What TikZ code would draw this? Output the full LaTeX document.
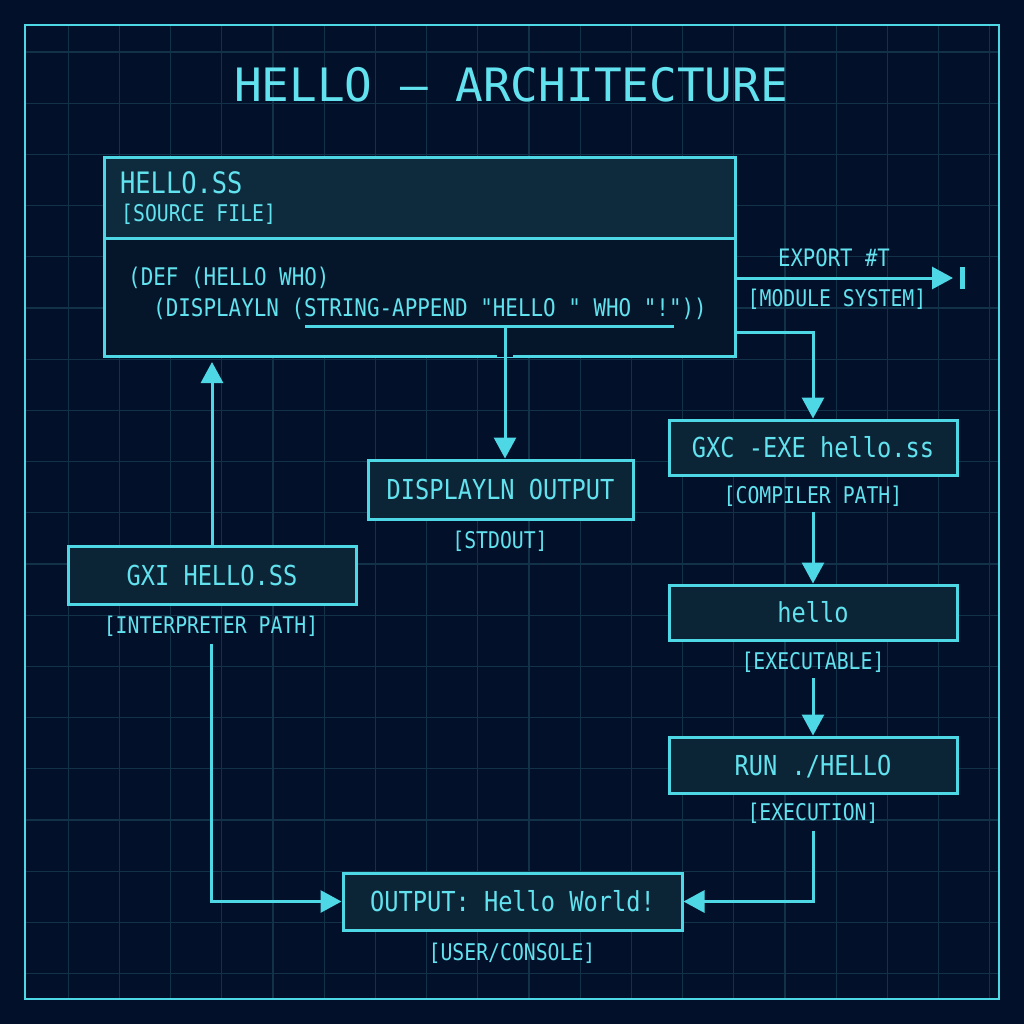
\documentclass[tikz,border=0pt]{standalone}
\usepackage{fontspec}
\setmonofont[FakeStretch=0.86]{DejaVu Sans Mono}
\newfontfamily\titlefont{DejaVu Sans Mono}
\usetikzlibrary{arrows.meta}
\definecolor{bgnavy}{HTML}{03102A}
\definecolor{gridteal}{HTML}{12324A}
\definecolor{neon}{HTML}{4ED8E6}
\definecolor{neontxt}{HTML}{62E2EE}
\definecolor{boxfill}{HTML}{0B2536}
\definecolor{headfill}{HTML}{0D2B3D}
\definecolor{bodyfill}{HTML}{05162B}
\tikzset{
  gridln/.style={gridteal,line width=1.2pt},
  outerframe/.style={draw=neon,line width=2.5pt},
  box/.style={draw=neon,fill=boxfill,line width=3pt,inner sep=0pt,text=neontxt,
    font=\ttfamily\fontsize{27.5}{32}\selectfont,text height=20pt,text depth=0pt},
  tag/.style={text=neontxt,inner sep=0pt,font=\ttfamily\fontsize{23}{28}\selectfont,
    text height=16.8pt,text depth=0pt},
  codeln/.style={text=neontxt,inner sep=0pt,font=\ttfamily\fontsize{24.3}{30}\selectfont,anchor=base west},
  flow/.style={neon,line width=3pt,-{Triangle[length=21pt,width=22pt]}},
  wire/.style={neon,line width=3pt},
}
\begin{document}
\begin{tikzpicture}[x=1pt,y=-1pt]
  \useasboundingbox[fill=bgnavy] (0,0) rectangle (1024,1024);
  % blueprint grid
  \foreach \k in {1,...,19}{
    \pgfmathsetmacro{\gx}{17+51.2*\k}
    \pgfmathsetmacro{\gy}{0.8+51.2*\k}
    \draw[gridln] (\gx,25)--(\gx,999);
    \draw[gridln] (25,\gy)--(999,\gy);
  }
  \draw[outerframe] (25,25) rectangle (999,999);
  \node[text=neontxt,inner sep=0pt,font=\titlefont\fontsize{46}{50}\selectfont,
    text height=33.5pt,text depth=0pt] (title) at (511,85) {HELLO — ARCHITECTURE};

  % source file box
  \node[box,fill=headfill,anchor=north west,minimum width=631pt,minimum height=81pt] (srchead) at (103,156) {};
  \node[box,fill=bodyfill,anchor=north west,minimum width=631pt,minimum height=118pt] (srcbody) at (103,237) {};
  \node[codeln,font=\ttfamily\fontsize{29.5}{34}\selectfont] (srcname) at (120,194) {HELLO.SS};
  \node[codeln,font=\ttfamily\fontsize{23}{28}\selectfont] (srctag) at (121,222) {[SOURCE FILE]};
  \node[codeln] (code1) at (128,285) {(DEF (HELLO WHO)};
  \node[codeln] (code2) at (153,316) {(DISPLAYLN (STRING-APPEND "HELLO " WHO "!"))};
  \draw[bgnavy,line width=3.6pt] (497,355)--(513,355);

  % boxes
  \node[box,minimum width=265pt,minimum height=59pt] (dispout) at (500.5,489.5) {DISPLAYLN OUTPUT};
  \node[tag] (displbl) at (500,540) {[STDOUT]};
  \node[box,minimum width=288pt,minimum height=58pt] (gxi) at (212,575) {GXI HELLO.SS};
  \node[tag] (gxilbl) at (211,625) {[INTERPRETER PATH]};
  \node[box,minimum width=339pt,minimum height=57pt] (outbox) at (512.5,901.5) {OUTPUT: Hello World!};
  \node[tag] (outlbl) at (512,952) {[USER/CONSOLE]};
  \node[box,minimum width=288pt,minimum height=55pt] (gxc) at (813,447.5) {GXC -EXE hello.ss};
  \node[tag] (gxclbl) at (813,495) {[COMPILER PATH]};
  \node[box,minimum width=288pt,minimum height=55pt] (hello) at (813,612.5) {hello};
  \node[tag] (exelbl) at (813,661) {[EXECUTABLE]};
  \node[box,minimum width=288pt,minimum height=56pt] (run) at (813,765) {RUN ./HELLO};
  \node[tag] (runlbl) at (813,812) {[EXECUTION]};

  % module export
  \coordinate (modout) at (734,278);
  \coordinate (expend) at (953,278);
  \coordinate (cmpout) at (734,332);
  \draw[flow] (modout) -- (expend);
  \draw[neon,line width=5pt] ([xshift=9pt]expend) ++(0,-11) -- ++(0,22);
  \node[tag,font=\ttfamily\fontsize{24}{28}\selectfont,text height=17.5pt] (explbl) at (834,258) {EXPORT \#T};
  \node[tag] (modlbl) at (837,298) {[MODULE SYSTEM]};

  % connectors
  \coordinate (ulstart) at (305,326);
  \coordinate (ulend) at (674,326);
  \coordinate (ul) at (505,326);
  \draw[wire] (ulstart) -- (ulend);
  \draw[flow] (ul) -- (ul |- dispout.north);
  \draw[flow] (cmpout) -| (gxc.north);
  \draw[flow] (gxi.north) -- ([yshift=-4pt]gxi.north |- srcbody.south);
  \draw[flow] ([yshift=-10pt]gxilbl.south) |- (outbox.west);
  \draw[flow] ([yshift=-8pt]gxclbl.south) -- (hello.north);
  \draw[flow] ([yshift=-8.6pt]exelbl.south) -- (run.north);
  \draw[flow] ([yshift=-10pt]runlbl.south) |- (outbox.east);
\end{tikzpicture}
\end{document}
